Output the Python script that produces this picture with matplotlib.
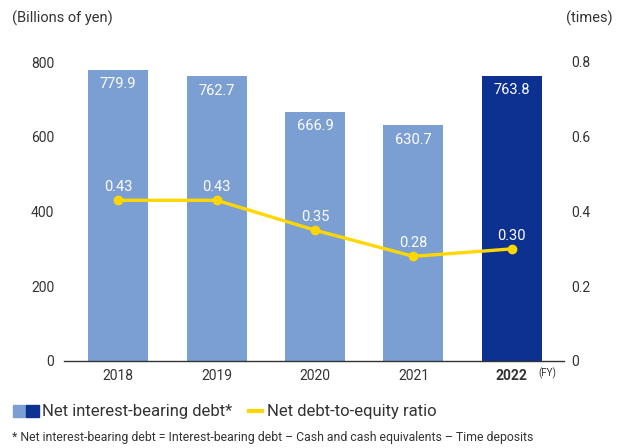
import matplotlib.pyplot as plt
from matplotlib.patches import Rectangle
from matplotlib.lines import Line2D

years = ['2018', '2019', '2020', '2021', '2022']
net_debt = [779.9, 762.7, 666.9, 630.7, 763.8]
de_ratio = [0.43, 0.43, 0.35, 0.28, 0.30]

light = '#7b9fd3'
dark = '#0c3190'
yellow = '#ffd700'
txt = '#333333'

plt.rcParams['font.family'] = ['Roboto', 'DejaVu Sans']

W, H = 624, 448
fig = plt.figure(figsize=(6.24, 4.48), dpi=100)
ax = fig.add_axes([64 / W, 1 - 361 / H, 500 / W, 299 / H])
ax2 = ax.twinx()

x = list(range(len(years)))
colors = [light] * 4 + [dark]
ax.bar(x, net_debt, width=0.61, color=colors, zorder=2)
ax.set_xlim(-0.55, 4.53)
ax.set_ylim(0, 800)
ax.set_yticks([0, 200, 400, 600, 800])
ax.set_xticks(x)
ax.set_xticklabels(years)
ax.get_xticklabels()[-1].set_fontweight('bold')
ax.tick_params(axis='both', length=0, labelsize=10, colors=txt)
ax.tick_params(axis='x', pad=6)
ax.tick_params(axis='y', pad=7)
for s in ['top', 'right', 'left']:
    ax.spines[s].set_visible(False)
ax.spines['bottom'].set_color('#333333')
ax.spines['bottom'].set_linewidth(1.0)

for xi, v in zip(x, net_debt):
    ax.annotate(f'{v:.1f}', (xi, v), xytext=(0, -10.5), textcoords='offset points',
                ha='center', va='center', color='white', fontsize=10.5)

ax2.plot(x, de_ratio, color=yellow, lw=2.4, marker='o', ms=6, zorder=3)
ax2.set_ylim(0, 0.8)
ax2.set_yticks([0, 0.2, 0.4, 0.6, 0.8])
ax2.set_yticklabels(['0', '0.2', '0.4', '0.6', '0.8'])
ax2.tick_params(axis='y', length=0, labelsize=10, colors=txt, pad=5)
for s in ['top', 'right', 'left', 'bottom']:
    ax2.spines[s].set_visible(False)
for xi, v in zip(x, de_ratio):
    ax2.annotate(f'{v:.2f}', (xi, v), xytext=(0, 9.5), textcoords='offset points',
                 ha='center', va='center', color='white', fontsize=10.5)

fig.text(12 / W, 1 - 18 / H, '(Billions of yen)', fontsize=10.5, color=txt, va='center')
fig.text(613 / W, 1 - 18 / H, '(times)', fontsize=10.5, color=txt, va='center', ha='right')
fig.text(538 / W, 1 - 373 / H, '(FY)', fontsize=7, color=txt, va='center')

# legend
ly = 1 - 411 / H
fig.patches.append(Rectangle((13 / W, 1 - 417 / H), 13 / W, 12 / H, transform=fig.transFigure,
                             color=light, figure=fig))
fig.patches.append(Rectangle((26 / W, 1 - 417 / H), 13 / W, 12 / H, transform=fig.transFigure,
                             color=dark, figure=fig))
fig.text(42 / W, ly, 'Net interest-bearing debt*', fontsize=12, color=txt, va='center')
fig.lines.append(Line2D([249 / W, 262 / W], [ly, ly], transform=fig.transFigure,
                        color=yellow, lw=3, figure=fig))
fig.text(267 / W, ly, 'Net debt-to-equity ratio', fontsize=12, color=txt, va='center')

fig.text(12 / W, 1 - 437 / H,
         '* Net interest-bearing debt = Interest-bearing debt \u2013 Cash and cash equivalents \u2013 Time deposits',
         fontsize=8.8, color=txt, va='center')

fig.savefig('out.png', dpi=100)
